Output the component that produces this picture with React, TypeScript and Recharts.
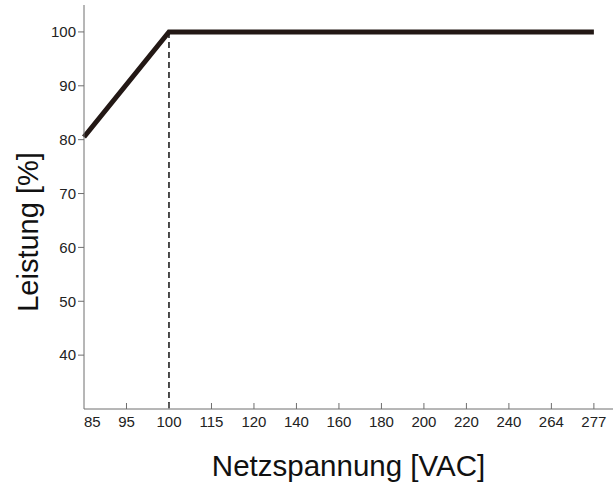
import React from 'react';
import { LineChart, Line, XAxis, YAxis, ReferenceLine } from 'recharts';

// x positions are category slots: 85, 95, 100, ... each one slot apart
const voltageLabels = ['85', '95', '100', '115', '120', '140', '160', '180', '200', '220', '240', '264', '277'];
const slots = voltageLabels.map((_, i) => i);
const yTicks = [40, 50, 60, 70, 80, 90, 100];

// power curve: slot index -> output power [%]
const curveSlots = [0, 2, 12];
const curvePower = [80.5, 100, 100];

const data = curveSlots.map((pos, i) => ({ pos, power: curvePower[i] }));

const AXIS = '#6e6e6e';
const FONT = '"Liberation Sans", Arial, sans-serif';

const BottomTick = (props: any) => {
    const { x, y, payload } = props;
    const first = payload.index === 0;
    return (
        <g>
            {!first && <line x1={x} y1={y} x2={x} y2={y - 6} stroke={AXIS} strokeWidth={1} />}
            <text
                x={x}
                y={y + 18}
                textAnchor={first ? 'start' : 'middle'}
                fontSize={15}
                fontFamily={FONT}
                fill="#222"
            >
                {voltageLabels[payload.value]}
            </text>
        </g>
    );
};

const XTitle = (props: any) => {
    const { viewBox } = props;
    const cx = viewBox.x + viewBox.width / 2;
    return (
        <text x={cx} y={476} textAnchor="middle" fontSize={29.5} fontFamily={FONT} fill="#111">
            Netzspannung [VAC]
        </text>
    );
};

const YTitle = () => (
    <text
        x={38}
        y={232}
        transform="rotate(-90, 38, 232)"
        textAnchor="middle"
        fontSize={29}
        fontFamily={FONT}
        fill="#111"
    >
        Leistung [%]
    </text>
);

export default function App() {
    return (
        <div style={{ position: 'absolute', left: 0, top: 0, background: '#fff' }}>
            <LineChart width={616} height={487} data={data} margin={{ top: 5, right: 3, left: 0, bottom: 0 }}>
                <XAxis
                    xAxisId="b"
                    dataKey="pos"
                    type="number"
                    domain={[0, 12.45]}
                    ticks={slots}
                    interval={0}
                    height={78}
                    stroke={AXIS}
                    tickLine={false}
                    tickSize={0}
                    tickMargin={0}
                    tick={<BottomTick />}
                    label={<XTitle />}
                />
                <XAxis xAxisId="t" orientation="top" dataKey="pos" type="number" domain={[0, 12.45]} height={0} tick={false} tickLine={false} stroke={AXIS} />
                <YAxis
                    yAxisId="l"
                    type="number"
                    domain={[30, 105]}
                    ticks={yTicks}
                    width={84}
                    stroke={AXIS}
                    tickSize={6}
                    tickMargin={2}
                    tick={{ fontSize: 15, fontFamily: FONT, fill: '#222' }}
                    label={<YTitle />}
                />
                <YAxis
                    yAxisId="r"
                    orientation="right"
                    type="number"
                    domain={[30, 105]}
                    ticks={yTicks}
                    width={0}
                    mirror
                    stroke={AXIS}
                    tickSize={6}
                    tick={() => <g />}
                />
                <ReferenceLine
                    xAxisId="b"
                    yAxisId="l"
                    segment={[{ x: 2, y: 100 }, { x: 2, y: 30 }]}
                    stroke="#111"
                    strokeWidth={1.5}
                    strokeDasharray="6 4"
                />
                <Line
                    xAxisId="b"
                    yAxisId="l"
                    dataKey="power"
                    type="linear"
                    stroke="#231815"
                    strokeWidth={5}
                    dot={false}
                    strokeLinejoin="miter"
                    isAnimationActive={false}
                />
            </LineChart>
        </div>
    );
}
